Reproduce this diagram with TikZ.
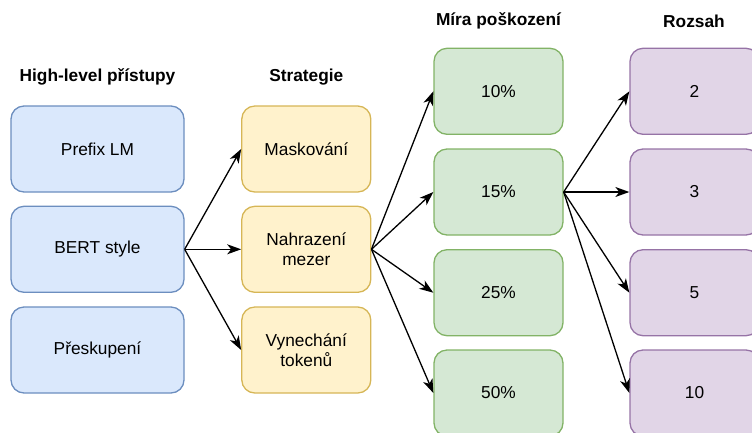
\documentclass[tikz,border=0pt]{standalone}
\usepackage{fontspec}
\setmainfont{Liberation Sans}
\usetikzlibrary{arrows.meta}
\definecolor{blueFill}{HTML}{DAE8FC}\definecolor{blueLine}{HTML}{6C8EBF}
\definecolor{yellowFill}{HTML}{FFF2CC}\definecolor{yellowLine}{HTML}{D6B656}
\definecolor{greenFill}{HTML}{D5E8D4}\definecolor{greenLine}{HTML}{82B366}
\definecolor{purpleFill}{HTML}{E1D5E7}\definecolor{purpleLine}{HTML}{9673A6}
\tikzset{
  box/.style={rounded corners=13pt, line width=1.3pt, minimum height=86pt,
    inner sep=0pt, align=center, font=\fontsize{17.3}{20.5}\selectfont},
  highbox/.style={box, fill=blueFill, draw=blueLine, minimum width=173pt},
  stratbox/.style={box, fill=yellowFill, draw=yellowLine, minimum width=129pt},
  ratebox/.style={box, fill=greenFill, draw=greenLine, minimum width=129pt},
  spanbox/.style={box, fill=purpleFill, draw=purpleLine, minimum width=129pt},
  header/.style={font=\fontsize{17.3}{20.5}\selectfont\bfseries},
  link/.style={line width=1.3pt, -{Stealth[length=14pt, width=10pt, inset=4pt]}},
}
\begin{document}
\begin{tikzpicture}[x=1pt, y=-1pt]
  \useasboundingbox (0,0) rectangle (752,432);
  \clip (0,0) rectangle (752,432);

  % column headers
  \node[header] (hHigh) at (97.5,77) {High-level přístupy};
  \node[header] (hStrat) at (306.3,77) {Strategie};
  \node[header] (hRate) at (498.5,21) {Míra poškození};
  \node[header] (hSpan) at (694,21) {Rozsah};

  % high-level approaches
  \node[highbox] (prefix) at (97.5,149) {Prefix LM};
  \node[highbox] (bert) at (97.5,249.3) {BERT style};
  \node[highbox] (shuffle) at (97.5,350) {Přeskupení};

  % strategies
  \node[stratbox] (mask) at (306.3,149) {Maskování};
  \node[stratbox] (replace) at (306.3,249.3) {Nahrazení\\mezer};
  \node[stratbox] (drop) at (306.3,350) {Vynechání\\tokenů};

  % corruption rates
  \node[ratebox] (r10) at (498.5,91.3) {10\%};
  \node[ratebox] (r15) at (498.5,192) {15\%};
  \node[ratebox] (r25) at (498.5,292.7) {25\%};
  \node[ratebox] (r50) at (498.5,393) {50\%};

  % span lengths
  \node[spanbox] (s2) at (694.5,91.3) {2};
  \node[spanbox] (s3) at (694.5,192) {3};
  \node[spanbox] (s5) at (694.5,292.7) {5};
  \node[spanbox] (s10) at (694.5,393) {10};

  % connectors
  \foreach \t in {mask,replace,drop} \draw[link] (bert.east) -- (\t.west);
  \foreach \t in {r10,r15,r25,r50} \draw[link] (replace.east) -- (\t.west);
  \foreach \t in {s2,s3,s5,s10} \draw[link] (r15.east) -- (\t.west);
\end{tikzpicture}
\end{document}
